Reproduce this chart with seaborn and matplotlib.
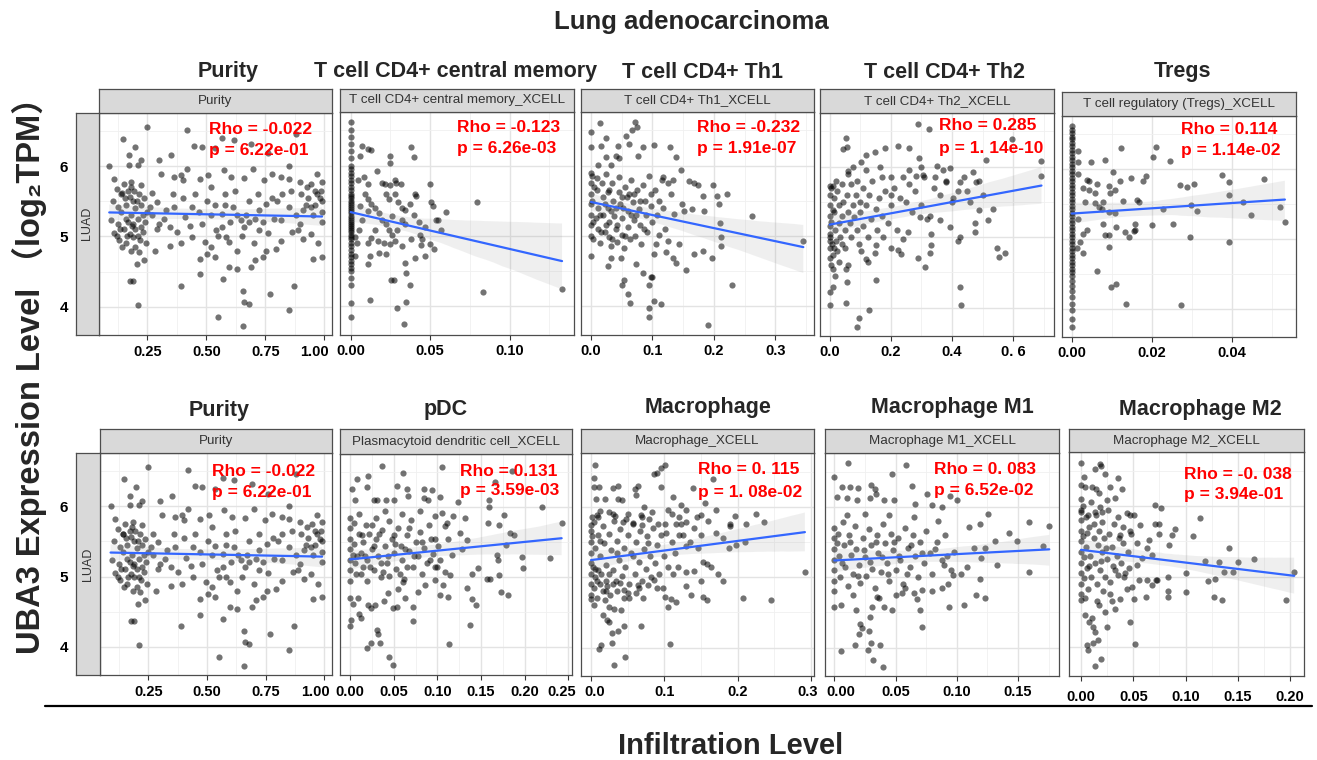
import matplotlib
matplotlib.use("Agg")
import matplotlib.pyplot as plt
import seaborn as sns
import pandas as pd
from matplotlib.lines import Line2D
from matplotlib.collections import PolyCollection
from matplotlib.transforms import ScaledTranslation

# ---------------- data ----------------
purity_pts = [
    (0.25,6.55),(0.148,6.39),(0.089,6.0),(0.198,6.27),(0.172,6.15),(0.222,6.08),(0.209,6.01),(0.172,6.02),
    (0.30,6.08),(0.35,6.15),(0.419,6.51),(0.449,6.29),(0.48,6.27),(0.535,6.25),(0.566,6.40),(0.616,6.37),
    (0.69,6.31),(0.759,6.18),(0.879,6.46),(0.851,6.0),(0.97,5.88),(0.989,5.77),(0.418,5.96),(0.394,5.87),
    (0.363,5.84),(0.308,5.88),(0.402,5.8),(0.472,5.82),(0.507,5.87),(0.574,5.94),(0.605,5.85),(0.66,5.83),
    (0.699,5.96),(0.746,5.8),(0.778,5.89),(0.817,5.84),(0.848,5.82),(0.895,5.77),(0.926,5.7),(0.958,5.65),
    (0.981,5.54),(0.109,5.82),(0.12,5.68),(0.151,5.75),(0.183,5.77),(0.222,5.73),(0.104,5.51),(0.128,5.42),
    (0.144,5.61),(0.175,5.56),(0.206,5.51),(0.237,5.54),(0.261,5.42),(0.269,5.61),(0.292,5.49),(0.097,5.23),
    (0.125,5.18),(0.159,5.25),(0.19,5.18),(0.222,5.13),(0.175,5.04),(0.19,4.99),(0.23,5.06),(0.245,4.9),
    (0.183,4.8),(0.214,4.78),(0.237,4.66),(0.206,4.61),(0.178,4.37),(0.19,4.37),(0.209,4.03),(0.284,4.8),
    (0.347,4.87),(0.394,4.9),(0.441,4.99),(0.48,5.18),(0.496,4.92),(0.519,4.85),(0.543,5.09),(0.566,5.13),
    (0.598,4.92),(0.629,4.8),(0.582,4.99),(0.504,4.75),(0.535,4.71),(0.472,4.68),(0.598,4.56),(0.629,4.54),
    (0.69,4.56),(0.707,4.66),(0.738,4.71),(0.754,4.8),(0.793,4.82),(0.817,4.94),(0.864,5.06),(0.887,5.09),
    (0.911,4.97),(0.942,5.04),(0.973,4.9),(0.989,4.71),(0.95,4.68),(0.895,5.18),(0.723,5.09),(0.66,5.13),
    (0.645,5.23),(0.723,5.37),(0.754,5.46),(0.801,5.51),(0.848,5.42),(0.504,5.51),(0.441,5.42),(0.41,5.27),
    (0.363,5.42),(0.331,5.37),(0.30,5.18),(0.347,5.13),(0.378,5.06),(0.535,5.44),(0.566,5.32),(0.613,5.42),
    (0.668,5.3),(0.707,5.25),(0.785,5.25),(0.817,5.23),(0.911,5.37),(0.942,5.42),(0.391,4.29),(0.472,4.46),
    (0.569,4.39),(0.55,3.85),(0.657,4.23),(0.66,4.07),(0.68,4.04),(0.77,4.18),(0.872,4.29),(0.848,3.96),
    (0.657,3.73),(0.14,5.35),(0.16,5.45),(0.18,5.3),(0.2,5.4),(0.215,5.6),(0.23,5.3),(0.155,5.55),(0.17,5.2),
    (0.195,5.65),(0.24,5.2),(0.135,5.1),(0.21,5.0),(0.16,4.9),(0.2,4.85),(0.18,5.7),(0.25,5.35),(0.45,5.6),
    (0.52,5.7),(0.58,5.6),(0.62,5.65),(0.68,5.5),(0.72,5.6),(0.65,5.0),(0.7,4.9),(0.76,5.05),(0.55,5.0),
    (0.6,5.2),(0.43,5.15),(0.88,5.3),(0.99,5.2),(0.99,5.5),
    (0.12,5.0),(0.13,4.95),(0.15,5.1),(0.165,5.0),(0.185,5.15),(0.2,5.1),(0.22,4.95),(0.14,5.6),(0.19,5.5),
    (0.225,5.45),(0.17,5.65),(0.21,5.25),(0.93,5.55),(0.96,5.45),(0.9,5.6),(0.86,5.65),(0.82,5.6),
    (0.78,5.55),(0.74,5.2),(0.68,5.2),(0.63,5.3),(0.58,5.45),(0.52,5.3),(0.47,5.35),(0.4,5.55),(0.36,5.6),
    (0.32,5.25),(0.29,5.1),(0.27,5.3),
    (0.97,5.6),(0.99,5.35),(0.95,5.3),(0.92,5.45),(0.985,5.65),(0.945,5.75),(0.11,5.05),(0.145,4.85),
]

cd4cm_pts = [
    (0,6.62),(0,6.5),(0,6.4),(0,6.3),(0,6.2),(0,6.1),(0,6.0),(0,5.95),(0,5.9),(0,5.85),(0,5.8),(0,5.75),
    (0,5.7),(0,5.65),(0,5.6),(0,5.57),(0,5.54),(0,5.5),(0,5.47),(0,5.44),(0,5.41),(0,5.38),(0,5.35),(0,5.32),
    (0,5.29),(0,5.26),(0,5.23),(0,5.2),(0,5.17),(0,5.14),(0,5.11),(0,5.08),(0,5.05),(0,5.02),(0,4.99),
    (0,4.95),(0,4.9),(0,4.85),(0,4.8),(0,4.75),(0,4.7),(0,4.65),(0,4.6),(0,4.55),(0,4.5),(0,4.4),(0,4.3),
    (0,4.05),(0,3.85),
    (0.0069,6.28),(0.011,6.23),(0.0058,6.13),(0.013,6.22),(0.0246,6.13),(0.025,6.04),(0.0377,6.26),
    (0.040,6.12),(0.0163,5.92),(0.0048,5.8),(0.0085,5.83),(0.0106,5.74),(0.0194,5.75),(0.0215,5.74),
    (0.0246,5.73),(0.0277,5.79),(0.0288,5.75),(0.0319,5.74),(0.0496,5.74),(0.0402,5.59),(0.041,5.57),
    (0.0506,5.48),(0.0517,5.42),(0.06,5.34),(0.0794,5.48),(0.0538,5.23),(0.0548,5.23),(0.0569,5.08),
    (0.0465,5.12),(0.0433,5.02),(0.0448,4.96),(0.0496,4.88),(0.0527,4.81),(0.0444,4.87),(0.0465,4.71),
    (0.0402,4.69),(0.034,4.62),(0.035,4.48),(0.0371,4.31),(0.0256,4.38),(0.0273,4.37),(0.0121,4.09),
    (0.0294,3.98),(0.035,4.06),(0.0335,3.75),(0.0829,4.21),(0.1329,4.24),
    (0.009,5.6),(0.011,5.53),(0.013,5.46),(0.015,5.39),(0.018,5.32),(0.02,5.22),(0.022,5.17),(0.024,5.08),
    (0.026,5.01),(0.028,4.93),(0.032,4.86),(0.015,5.08),(0.013,4.97),(0.011,4.9),(0.017,4.93),(0.021,4.9),
    (0.025,4.88),(0.029,5.08),(0.032,5.22),(0.034,5.17),(0.007,5.22),(0.005,5.08),(0.003,4.98),(0.006,5.42),
    (0.011,5.35),(0.022,5.6),(0.024,5.53),(0.028,5.6),(0.032,5.39),(0.034,5.37),(0.03,5.48),(0.026,5.29),
    (0.018,4.76),(0.011,4.6),(0.012,4.72),(0.022,4.75),(0.003,4.72),(0.004,4.9),(0.037,5.45),(0.04,5.3),
    (0.043,5.2),(0.038,4.95),
]

th1_pts = [
    (0.0146,6.6),(0.072,6.62),(0.075,6.55),(0.0667,6.51),(0.057,6.42),(0.0244,6.39),(0,6.47),(0.0163,6.28),
    (0,6.27),(0.0434,6.28),(0.0623,6.31),(0.084,6.27),(0.103,6.29),(0.129,6.27),(0.0759,6.14),(0.041,6.14),
    (0.046,6.11),(0.024,6.12),(0.011,6.01),(0.0325,6.01),(0.138,6.12),(0.1463,5.93),(0.117,5.83),(0.125,5.75),
    (0.133,5.79),(0.16,5.78),(0.168,5.75),(0.1735,5.72),(0.198,5.73),(0.1816,5.57),(0.206,5.57),(0.222,5.6),
    (0.148,5.46),(0.165,5.38),(0.184,5.35),(0.2087,5.45),(0.2618,5.29),(0.1355,5.31),(0.152,5.35),(0.21,5.18),
    (0.211,4.98),(0.2125,4.85),(0.1816,4.78),(0.197,4.68),(0.168,4.75),(0.1545,4.52),(0.138,4.61),(0.133,4.69),
    (0.144,4.88),(0.125,4.93),(0.111,5.02),(0.106,4.88),(0.103,4.74),(0.122,4.77),(0.1,4.41),(0.098,4.41),
    (0.094,4.31),(0.103,4.07),(0.114,4.04),(0.095,3.97),(0.095,3.85),(0.0607,4.18),(0.063,4.05),(0.0504,4.3),
    (0.054,4.38),(0.084,4.47),(0.073,4.6),(0.028,4.57),(0.0325,4.68),(0.0488,4.68),(0,4.72),(0.2293,4.3),
    (0.19,3.74),(0.3458,4.93),
    (0.0,5.9),(0.0,5.75),(0.0,5.6),(0.0,5.45),(0.0,5.3),(0.0,5.15),(0.0,5.0),(0.002,5.85),(0.002,5.5),
    (0.003,5.2),(0.003,4.95),(0.01,5.82),(0.01,5.65),(0.012,5.4),(0.012,5.1),(0.015,4.9),(0.018,5.75),
    (0.02,5.55),(0.02,5.3),(0.022,5.05),(0.025,5.88),(0.027,5.62),(0.028,5.4),(0.03,5.2),(0.03,4.98),
    (0.032,4.85),(0.035,5.75),(0.036,5.5),(0.038,5.28),(0.04,5.1),(0.042,4.92),(0.045,5.83),(0.045,5.62),
    (0.047,5.45),(0.05,5.25),(0.05,5.02),(0.053,4.83),(0.055,5.7),(0.058,5.55),(0.06,5.35),(0.06,5.12),
    (0.063,4.95),(0.065,5.8),(0.068,5.48),(0.07,5.22),(0.072,5.0),(0.075,5.65),(0.078,5.38),(0.08,5.15),
    (0.082,4.88),(0.085,5.72),(0.088,5.5),(0.09,5.3),(0.092,5.05),(0.095,5.85),(0.098,5.42),(0.1,5.2),
    (0.03,5.65),(0.04,5.4),(0.05,5.55),(0.025,5.15),(0.015,5.3),(0.065,5.3),(0.07,5.6),(0.11,5.5),
    (0.115,5.8),(0.12,5.1),(0.105,5.65),(0.13,5.6),
    (0.005,5.7),(0.008,5.25),(0.017,5.05),(0.023,5.45),(0.033,5.35),(0.043,5.15),(0.052,5.4),(0.062,5.6),
    (0.074,5.3),(0.086,5.1),(0.097,5.6),(0.108,5.3),(0.118,5.4),(0.035,4.95),(0.055,5.0),(0.08,5.5),
]

th2_pts = [
    (0.289,6.61),(0.324,6.54),(0.052,6.41),(0.0436,6.25),(0.058,6.28),(0.118,6.16),(0.149,6.2),(0.18,6.26),
    (0.224,6.29),(0.26,6.27),(0.598,6.39),(0.693,6.08),(0.51,6.09),(0.292,6.12),(0.351,6.01),(0.393,5.98),
    (0.06,5.94),(0.076,6.0),(0.101,6.06),(0.1636,5.99),(0.2,5.85),(0.24,5.85),(0.284,5.87),(0.305,5.88),
    (0.343,5.85),(0.38,5.78),(0.425,5.78),(0.469,5.92),(0.478,5.78),(0.489,5.79),(0.69,5.86),(0,5.73),
    (0.011,5.73),(0.45,5.65),(0.4035,5.55),(0.4876,5.39),(0.535,5.4),(0.519,5.24),(0.4745,5.2),(0.4745,5.07),
    (0.425,5.0),(0.42,4.95),(0.393,5.14),(0.36,5.24),(0.327,5.3),(0.294,5.28),(0.333,5.04),(0.333,4.89),
    (0.327,4.78),(0.289,4.7),(0.311,4.57),(0.256,5.07),(0.24,4.97),(0.234,4.76),(0.224,4.81),(0.2,4.84),
    (0.153,4.88),(0.147,4.78),(0.12,4.69),(0.125,4.64),(0.153,4.39),(0.101,4.8),(0.06,4.6),(0.0545,4.55),
    (0.058,4.36),(0.011,4.55),(0.0164,4.45),(0.0109,4.29),(0,4.22),(0,4.04),(0.052,4.06),(0.095,3.85),
    (0.0905,3.73),(0.129,3.96),(0.425,4.29),(0.4285,4.03),(0.549,4.84),(0.554,4.72),(0.575,4.78),
    (0.0,5.6),(0.0,5.45),(0.0,5.3),(0.0,5.15),(0.0,5.0),(0.0,4.85),(0.005,5.7),(0.005,5.22),(0.008,4.9),
    (0.015,5.55),(0.015,5.35),(0.018,5.1),(0.02,4.95),(0.025,5.65),(0.03,5.45),(0.03,5.2),(0.035,5.0),
    (0.04,5.75),(0.04,5.3),(0.045,5.5),(0.05,5.1),(0.05,4.85),(0.055,5.6),(0.06,5.35),(0.065,5.2),
    (0.07,5.75),(0.07,5.0),(0.075,5.45),(0.08,5.28),(0.085,5.6),(0.09,5.1),(0.095,4.9),(0.1,5.5),
    (0.1,5.35),(0.11,5.7),(0.11,5.15),(0.12,5.45),(0.125,5.0),(0.13,5.6),(0.135,5.25),(0.14,5.8),
    (0.15,5.4),(0.155,5.1),(0.16,5.55),(0.17,5.3),(0.175,5.0),(0.18,5.65),(0.19,5.2),(0.2,5.45),(0.21,5.7),
    (0.22,5.1),(0.23,5.55),(0.25,5.5),(0.26,5.75),(0.27,5.35),(0.28,5.65),(0.3,5.45),(0.31,5.85),
    (0.32,5.25),(0.34,5.7),(0.36,5.6),(0.38,5.8),(0.4,5.5),(0.02,5.8),(0.06,5.9),(0.09,5.8),(0.12,5.95),
    (0.17,5.85),(0.2,5.6),(0.01,5.38),
    (0.0,4.7),(0.005,4.6),(0.01,4.75),(0.015,4.85),(0.025,4.8),(0.03,4.65),(0.04,4.9),(0.0,4.95),
    (0.0,5.05),(0.42,5.65),(0.44,5.85),(0.46,5.5),(0.5,5.6),(0.37,5.95),(0.3,6.0),(0.26,5.95),
]

tregs_pts = [
    (0,6.61),(0,6.56),(0,6.51),(0,6.46),(0,6.42),(0,6.37),(0,6.32),(0,6.27),(0,6.22),(0,6.17),(0,6.12),
    (0,6.07),(0,6.02),(0,5.97),(0,5.92),(0,5.87),(0,5.82),(0,5.77),(0,5.72),(0,5.67),(0,5.62),(0,5.57),
    (0,5.52),(0,5.47),(0,5.42),(0,5.37),(0,5.32),(0,5.27),(0,5.22),(0,5.17),(0,5.12),(0,5.07),(0,5.02),
    (0,4.97),(0,4.92),(0,4.87),(0,4.82),(0,4.77),(0,4.72),(0,4.67),(0,4.62),(0,4.57),(0,4.52),(0,4.47),
    (0,4.4),(0,4.33),(0,4.26),(0,4.17),(0,4.07),(0,3.98),(0,3.86),(0,3.74),
    (0.0015,6.25),(0.01225,6.3),(0.0211,6.31),(0.0204,6.17),(0.0246,6.11),(0.00475,6.1),(0.0083,6.12),
    (0.0015,6.1),(0.0015,5.93),(0.0104,5.96),(0.00375,5.84),(0.0044,5.83),(0.00625,5.79),(0.0029,5.73),
    (0.0042,5.7),(0.0058,5.65),(0.0092,5.75),(0.0096,5.65),(0.0107,5.7),(0.012,5.82),(0.0148,5.87),
    (0.0179,5.83),(0.0185,5.9),(0.0271,5.77),(0.0288,5.74),(0.0306,5.79),(0.0375,5.91),(0.0393,5.81),
    (0.0481,5.85),(0.0392,5.62),(0.0428,5.52),(0.0129,5.54),(0.0163,5.56),(0.0167,5.52),(0.0032,5.53),
    (0.0058,5.51),(0.0067,5.46),(0.0079,5.52),(0.0075,5.42),(0.0107,5.37),(0.0092,5.38),(0.0228,5.42),
    (0.0298,5.48),(0.0313,5.4),(0.0448,5.34),(0.0521,5.46),(0.0533,5.24),(0.0253,5.21),(0.02,5.2),
    (0.0157,5.21),(0.0156,5.11),(0.0158,5.13),(0.0132,5.09),(0.0144,5.03),(0.011,5.17),(0.0078,5.21),
    (0.0093,5.06),(0.0082,5.06),(0.0039,5.13),(0.0027,5.07),(0.0015,5.28),(0.00125,4.87),(0.0021,4.96),
    (0.0028,4.8),(0.0094,4.88),(0.0296,5.03),(0.0393,4.95),(0.0064,4.54),(0.0098,4.31),(0.011,4.36),
    (0.0136,4.07),(0.0273,4.05),
]

pdc_pts = [
    (0.0363,6.59),(0.1057,6.58),(0.0603,6.49),(0.021,6.45),(0.0076,6.41),(0.019,6.29),(0.0542,6.3),
    (0.0649,6.27),(0.0851,6.27),(0.0935,6.25),(0.0027,6.26),(0.0057,6.1),(0.0279,6.1),(0.0305,6.1),
    (0.0412,6.1),(0.0504,6.1),(0.066,6.17),(0.0851,6.13),(0.0897,6.1),(0.103,6.15),(0.1595,6.11),(0.1595,6.0),
    (0.124,6.08),(0.185,6.52),(0.166,6.36),(0.22,6.01),(0.2424,5.77),(0.171,5.75),(0.1832,5.63),(0.1878,5.6),
    (0.1767,5.89),(0.1584,5.77),(0.179,5.46),(0.168,5.32),(0.169,5.25),(0.1966,5.29),(0.229,5.27),
    (0.1985,5.13),(0.1706,5.03),(0.1725,4.79),(0.1806,4.74),(0.1603,4.98),(0.1565,4.98),(0.147,5.13),
    (0.1393,5.04),(0.1336,4.85),(0.1393,4.69),(0.1443,4.6),(0.1374,4.31),(0.1134,4.05),(0.1279,5.41),
    (0.1336,5.54),(0.1126,5.55),(0.1088,5.74),(0.1183,5.88),(0.1317,5.85),(0.0973,5.88),(0.105,5.92),
    (0.1107,5.78),(0.126,5.63),(0.0973,5.55),(0.1011,5.45),(0.1164,5.32),(0.103,5.25),(0.0973,5.14),
    (0.1088,5.08),(0.1145,5.03),(0.1069,4.89),(0.103,4.75),(0.1126,4.72),(0.0973,4.96),(0.0859,4.89),
    (0.0782,4.79),(0.0725,4.58),(0.0718,4.38),(0.063,4.7),(0.0534,4.57),(0.0489,4.56),(0.0546,4.83),
    (0.0611,4.93),(0.0439,4.77),(0.0393,4.66),(0.0286,4.6),(0.021,4.6),(0.0241,4.56),(0.0095,4.7),(0,4.7),
    (0.0038,4.61),(0.0103,4.47),(0.0126,4.42),(0.0011,4.39),(0,4.3),(0.0313,4.24),(0.0317,4.19),
    (0.0237,4.06),(0.019,3.99),(0.0344,4.06),(0.0447,3.86),(0.0489,3.75),
    (0.0,5.85),(0.0,5.7),(0.0,5.55),(0.0,5.4),(0.0,5.25),(0.0,5.1),(0.0,4.95),(0.005,5.78),(0.005,5.48),
    (0.006,5.2),(0.01,5.9),(0.01,5.62),(0.012,5.35),(0.012,5.05),(0.015,5.5),(0.018,5.75),(0.02,5.25),
    (0.02,4.95),(0.022,5.62),(0.025,5.4),(0.027,5.1),(0.03,5.85),(0.03,5.55),(0.032,5.3),(0.035,5.0),
    (0.037,5.68),(0.04,5.45),(0.042,5.2),(0.045,5.8),(0.045,5.02),(0.048,5.55),(0.05,5.35),(0.053,5.12),
    (0.055,5.7),(0.058,5.45),(0.06,5.25),(0.062,4.98),(0.065,5.6),(0.068,5.38),(0.07,5.82),(0.072,5.15),
    (0.075,5.5),(0.078,5.3),(0.08,5.65),(0.083,5.05),(0.085,5.42),(0.088,5.2),(0.09,5.75),(0.093,5.55),
    (0.095,5.33),(0.1,5.15),(0.015,5.15),(0.025,5.75),(0.035,5.2),(0.05,5.6),(0.065,5.15),(0.008,5.3),
    (0.04,5.95),(0.06,5.9),(0.08,5.95),
    (0.003,5.32),(0.007,5.05),(0.014,5.6),(0.017,5.3),(0.023,5.15),(0.028,5.45),(0.033,5.62),(0.038,5.08),
    (0.043,5.3),(0.052,5.48),(0.057,5.05),(0.063,5.4),(0.067,5.7),(0.073,5.3),(0.082,5.5),(0.092,5.25),
]

macro_pts = [
    (0.0055,6.6),(0.0036,6.41),(0.1003,6.59),(0.0958,6.55),(0.0857,6.46),(0.0899,6.48),(0.1664,6.39),
    (0.0046,6.28),(0.0114,6.28),(0.0296,6.27),(0.0365,6.29),(0.0602,6.25),(0.0647,6.3),(0.0958,6.28),
    (0.1391,6.26),(0.1117,6.14),(0.1231,6.02),(0.0068,6.11),(0.0196,6.11),(0.0365,6.11),(0.0419,6.1),
    (0.0616,6.17),(0.073,6.0),(0.0834,5.92),(0.0014,5.86),(0.0078,5.89),(0.0128,5.94),(0.0242,5.92),
    (0.0333,5.87),(0.0433,5.78),(0.0479,5.82),(0.057,5.77),(0.0684,5.89),(0.0698,5.74),(0.0798,5.82),
    (0.0912,5.75),(0.1003,5.76),(0.1026,5.63),(0.1163,5.75),(0.1231,5.75),(0.13,5.78),(0.1496,5.88),
    (0.171,5.63),(0.1892,5.72),(0.1961,5.87),(0.2111,5.76),(0.2248,5.9),(0.2362,5.78),(0,5.74),(0.0009,5.59),
    (0.1879,5.41),(0.1984,5.45),(0.13,5.44),(0.146,5.42),(0.1528,5.22),(0.1582,5.19),(0.1642,5.15),
    (0.1733,5.05),(0.1801,4.95),(0.1505,4.95),(0.1404,5.09),(0.129,5.08),(0.1186,5.15),(0.1117,5.05),
    (0.13,4.88),(0.1368,4.75),(0.1528,4.72),(0.1587,4.67),(0.2075,4.71),(0.2462,4.68),(0.2918,5.08),
    (0.1163,4.65),(0.1003,4.72),(0.1049,4.58),(0.1094,4.69),(0.098,4.84),(0.0866,4.96),(0.0775,4.89),
    (0.0707,4.7),(0.0616,4.77),(0.0502,4.77),(0.0638,4.89),(0.0524,4.7),(0.041,4.53),(0.0319,4.55),
    (0.0242,4.58),(0.0196,4.67),(0.0046,4.6),(0,4.69),(0.016,4.46),(0.0219,4.39),(0.0251,4.37),
    (0.0447,4.3),(0.0365,4.24),(0.0287,4.2),(0.0684,4.3),(0.0287,4.06),(0.0137,4.04),(0.0105,3.98),
    (0.047,3.86),(0.031,3.75),(0.1081,4.05),
    (0.0,5.65),(0.0,5.5),(0.0,5.35),(0.0,5.2),(0.0,5.05),(0.0,4.9),(0.004,5.78),(0.005,5.42),(0.006,5.12),
    (0.008,4.95),(0.01,5.6),(0.012,5.3),(0.014,5.05),(0.016,5.72),(0.018,5.48),(0.02,5.18),(0.022,4.88),
    (0.025,5.62),(0.027,5.38),(0.03,5.1),(0.032,5.8),(0.034,4.95),(0.036,5.52),(0.038,5.25),(0.04,5.68),
    (0.042,5.02),(0.045,5.42),(0.047,5.15),(0.05,5.6),(0.052,4.9),(0.055,5.35),(0.057,5.75),(0.06,5.05),
    (0.062,5.5),(0.065,5.22),(0.067,5.65),(0.07,4.95),(0.072,5.4),(0.075,5.12),(0.077,5.58),(0.08,5.3),
    (0.082,5.0),(0.085,5.7),(0.088,5.2),(0.09,5.45),(0.093,5.05),(0.095,5.6),(0.1,5.3),(0.105,5.15),
    (0.11,5.5),(0.115,5.35),(0.12,5.6),(0.01,5.85),(0.03,5.9),(0.05,5.9),(0.07,5.85),(0.02,4.8),
    (0.045,4.82),(0.065,4.85),(0.09,4.85),(0.012,5.52),(0.035,5.35),(0.058,5.3),(0.078,5.48),
    (0.0,4.75),(0.004,4.85),(0.008,4.7),(0.012,4.9),(0.016,4.8),(0.02,4.95),(0.006,5.0),(0.026,4.75),
    (0.03,4.9),(0.035,4.8),(0.04,4.92),(0.01,5.1),(0.024,5.05),(0.003,5.15),(0.045,4.7),
    (0.12,5.85),(0.14,5.7),(0.15,5.6),(0.16,5.8),(0.18,5.55),(0.13,5.95),(0.11,5.9),(0.17,5.95),
    (0.19,5.75),(0.21,5.5),(0.105,5.95),(0.125,5.6),(0.145,5.85),(0.155,6.05),(0.135,5.5),
]

m1_pts = [
    (0.0112,6.62),(0.0588,6.6),(0,6.42),(0.0471,6.47),(0.0063,6.28),(0.0131,6.28),(0.0191,6.27),
    (0.0302,6.31),(0.0335,6.25),(0.0634,6.29),(0.0022,6.14),(0.0103,6.12),(0.0185,6.1),(0.0289,6.13),
    (0.0403,6.1),(0.0485,6.1),(0.0343,6.18),(0.0662,6.04),(0.0798,6.03),(0.0879,6.0),(0.1002,6.1),
    (0.0947,6.16),(0.0757,6.18),(0.1252,5.9),(0.1192,5.75),(0.1097,5.71),(0.1424,5.63),(0.1593,5.78),
    (0.1756,5.73),(0.1704,5.44),(0.1492,5.52),(0.1315,5.51),(0.1233,5.42),(0.1138,5.41),(0.1329,5.18),
    (0.12,5.27),(0.1587,5.08),(0.1187,4.97),(0.1084,5.15),(0.1037,5.05),(0.0969,5.03),(0.0975,5.36),
    (0.0893,5.17),(0.0926,4.91),(0.0879,4.84),(0.1056,4.6),(0.116,4.75),(0.1233,4.7),(0.0798,4.8),
    (0.0934,4.57),(0.0716,4.82),(0.0702,4.53),(0.0716,4.29),(0.0675,4.69),(0.0648,4.77),(0.058,4.84),
    (0.0506,4.75),(0.0471,4.53),(0.0403,4.58),(0.0362,4.7),(0.0308,4.57),(0.0294,4.44),(0.018,4.53),
    (0.0207,4.34),(0.0199,4.19),(0.0226,4.28),(0.028,4.23),(0.0302,4.06),(0.0272,3.97),(0.0376,4.03),
    (0.0166,4.03),(0.0054,3.95),(0.0316,3.83),(0.0395,3.72),(0,4.58),(0.0057,4.6),
    (0.0,5.7),(0.0,5.55),(0.0,5.4),(0.0,5.25),(0.0,5.1),(0.0,4.95),(0.0,4.8),(0.003,5.62),(0.004,5.3),
    (0.005,5.0),(0.007,5.78),(0.008,5.45),(0.009,5.15),(0.011,4.88),(0.012,5.6),(0.014,5.32),(0.015,5.05),
    (0.017,5.72),(0.018,5.4),(0.02,5.18),(0.021,4.92),(0.023,5.55),(0.025,5.28),(0.026,5.02),(0.028,5.68),
    (0.03,5.45),(0.031,5.12),(0.033,4.85),(0.035,5.6),(0.036,5.35),(0.038,5.08),(0.04,5.75),(0.041,5.48),
    (0.043,5.2),(0.045,4.95),(0.046,5.62),(0.048,5.38),(0.05,5.1),(0.052,5.55),(0.054,5.25),(0.056,4.9),
    (0.058,5.7),(0.06,5.42),(0.062,5.15),(0.064,5.6),(0.066,5.3),(0.068,5.0),(0.07,5.5),(0.073,5.2),
    (0.075,5.65),(0.078,5.35),(0.08,5.05),(0.084,5.5),(0.088,5.25),(0.09,5.6),(0.095,5.1),(0.01,5.88),
    (0.025,5.9),(0.045,5.88),(0.065,5.85),(0.085,5.8),(0.015,4.75),(0.035,4.72),(0.055,4.78),
    (0.002,5.48),(0.006,5.2),(0.013,5.5),(0.019,5.02),(0.024,5.38),(0.029,5.22),(0.034,5.5),(0.039,5.28),
    (0.044,5.05),(0.049,5.5),(0.053,5.3),(0.059,5.05),(0.063,5.45),(0.072,5.35),(0.082,5.4),(0.092,5.3),
]

m2_pts = [
    (0,6.61),(0.0131,6.53),(0.0178,6.59),(0.0194,6.56),(0.0232,6.46),(0.0354,6.39),(0.0025,6.41),(0,6.3),
    (0.0041,6.27),(0.0105,6.27),(0.0146,6.24),(0.0169,6.18),(0.028,6.27),(0.0392,6.24),(0.0248,6.08),
    (0.0328,6.12),(0.0704,6.01),(0.0764,5.97),(0.114,5.83),(0,5.92),(0.0067,5.87),(0.0137,5.92),
    (0.0201,5.91),(0.044,5.9),(0.047,5.88),(0.0503,5.87),(0.0567,5.73),(0.0711,5.75),(0.0742,5.75),
    (0.0742,5.6),(0.0901,5.68),(0.0869,5.59),(0.107,5.58),(0.0646,5.52),(0.0838,5.45),(0.1411,5.41),
    (0.1188,5.22),(0.1315,5.21),(0.1363,5.07),(0.1452,5.06),(0.1283,4.97),(0.1213,4.94),(0.1003,5.05),
    (0.0831,5.0),(0.0726,4.96),(0.0631,4.96),(0.0678,4.88),(0.0621,4.72),(0.0719,4.95),(0.0834,4.8),
    (0.0834,4.71),(0.1003,4.79),(0.1268,4.71),(0.1347,4.67),(0.1959,4.67),(0.2038,5.07),(0.0557,4.95),
    (0.0503,4.69),(0.0487,4.86),(0.044,4.83),(0.0328,4.54),(0.0248,4.29),(0.0471,4.36),(0.0513,4.05),
    (0.0194,3.84),(0.0137,3.74),(0,4.67),(0.0035,4.46),(0.0073,4.36),(0.0111,4.29),(0.0131,4.22),
    (0.0057,4.03),(0.0118,4.06),(0.0067,3.96),(0.0162,4.1),(0.0105,4.41),(0.0169,4.6),(0.0232,4.5),
    (0.0296,4.65),(0.0376,4.69),(0.0408,5.0),(0.0328,5.09),(0.0455,5.12),(0.0535,5.17),(0.0583,5.26),
    (0.0678,5.31),(0.0631,5.4),(0.0535,5.47),(0.047,5.64),(0.0376,5.59),
    (0.0,6.1),(0.0,5.95),(0.0,5.8),(0.0,5.65),(0.0,5.5),(0.0,5.35),(0.0,5.2),(0.0,5.05),(0.0,4.9),(0.0,4.75),
    (0.002,6.0),(0.002,5.58),(0.003,5.28),(0.003,4.98),(0.005,5.85),(0.005,5.42),(0.006,5.12),(0.007,4.82),
    (0.008,5.7),(0.009,5.3),(0.01,6.05),(0.01,5.0),(0.012,5.55),(0.013,5.2),(0.014,5.88),(0.015,4.9),
    (0.016,5.45),(0.017,5.65),(0.018,5.1),(0.02,5.78),(0.02,5.35),(0.021,4.8),(0.022,5.55),(0.023,5.0),
    (0.025,5.25),(0.026,5.95),(0.027,5.6),(0.028,4.92),(0.03,5.42),(0.031,5.15),(0.032,5.75),(0.034,5.3),
    (0.035,5.02),(0.036,5.55),(0.038,5.2),(0.04,5.48),(0.04,5.7),(0.042,5.05),(0.045,5.35),(0.048,5.6),
    (0.012,5.75),(0.008,5.15),(0.018,5.98),(0.024,5.4),(0.004,4.7),(0.015,4.65),(0.028,4.75),(0.035,5.85),
    (0.006,5.62),(0.019,5.22),(0.15,5.21),(0.165,5.25),
]

# text of the chart
main_title = "Lung adenocarcinoma"
x_label = "Infiltration Level"
y_label = "UBA3 Expression Level （log₂TPM）"
row_label = "LUAD"
titles = ["Purity", "T cell CD4+ central memory", "T cell CD4+ Th1", "T cell CD4+ Th2", "Tregs",
          "Purity", "pDC", "Macrophage", "Macrophage M1", "Macrophage M2"]
strips = ["Purity", "T cell CD4+ central memory_XCELL", "T cell CD4+ Th1_XCELL", "T cell CD4+ Th2_XCELL",
          "T cell regulatory (Tregs)_XCELL", "Purity", "Plasmacytoid dendritic cell_XCELL",
          "Macrophage_XCELL", "Macrophage M1_XCELL", "Macrophage M2_XCELL"]
rho_txt = ["Rho = -0.022", "Rho = -0.123", "Rho = -0.232", "Rho = 0.285", "Rho = 0.114",
           "Rho = -0.022", "Rho = 0.131", "Rho = 0. 115", "Rho = 0. 083", "Rho = -0. 038"]
p_txt = ["p = 6.22e-01", "p = 6.26e-03", "p = 1.91e-07", "p = 1. 14e-10", "p = 1.14e-02",
         "p = 6.22e-01", "p = 3.59e-03", "p = 1. 08e-02", "p = 6.52e-02", "p = 3.94e-01"]
xticks = [[0.25, 0.50, 0.75, 1.00], [0.00, 0.05, 0.10], [0.0, 0.1, 0.2, 0.3], [0.0, 0.2, 0.4, 0.6],
          [0.00, 0.02, 0.04], [0.25, 0.50, 0.75, 1.00], [0.00, 0.05, 0.10, 0.15, 0.20, 0.25],
          [0.0, 0.1, 0.2, 0.3], [0.00, 0.05, 0.10, 0.15], [0.00, 0.05, 0.10, 0.15, 0.20]]
xticklabels = [["0.25", "0.50", "0.75", "1.00"], ["0.00", "0.05", "0.10"], ["0.0", "0.1", "0.2", "0.3"],
               ["0.0", "0.2", "0.4", "0. 6"], ["0.00", "0.02", "0.04"], ["0.25", "0.50", "0.75", "1.00"],
               ["0.00", "0.05", "0.10", "0.15", "0.20", "0.25"], ["0.0", "0.1", "0.2", "0.3"],
               ["0.00", "0.05", "0.10", "0.15"], ["0.00", "0.05", "0.10", "0.15", "0.20"]]
yticks = [4, 5, 6]
panel_data = [purity_pts, cd4cm_pts, th1_pts, th2_pts, tregs_pts,
              purity_pts, pdc_pts, macro_pts, m1_pts, m2_pts]

# ---------------- layout (pixels) ----------------
W, H = 1317, 760
# plot x0, x1, y0 (top), y1 (bottom), strip top, xlim
layout = [
    (98.5, 332, 112.5, 335, 89, (0.0436, 1.032)),
    (340, 574.3, 112, 334.5, 89, (-0.0067, 0.1406)),
    (581, 813.7, 112, 334.5, 89, (-0.0163, 0.3627)),
    (820.3, 1053.7, 113, 335.7, 89, (-0.0308, 0.733)),
    (1061.7, 1295.7, 115.7, 336.7, 91.7, (-0.0025, 0.056)),
    (99.9, 332, 452.7, 675, 429.3, (0.0436, 1.032)),
    (340, 572.3, 454.3, 675, 429, (-0.0115, 0.2546)),
    (581, 813.7, 453.3, 675.7, 429, (-0.0136, 0.3038)),
    (825.3, 1059.3, 453.3, 675.7, 429, (-0.0074, 0.1838)),
    (1069.3, 1303.7, 452.3, 675.7, 429, (-0.0112, 0.2129)),
]
# horizontal shifts (px) of single tick labels, as placed in the reference
label_shift = {(0, 3): -10, (5, 3): -9, (6, 5): -7, (7, 0): 4, (7, 3): -3, (8, 0): 6}
title_pos = [(228, 71), (456, 72), (703, 73), (945, 72), (1183, 72),
             (219, 411), (446, 410), (708, 408), (952, 408), (1200, 410)]
rho_pos = [(209, 129, 150), (457, 128, 148), (697, 127, 148), (939, 126, 148), (1181, 130, 151),
           (212, 471, 493), (460, 471, 491), (698, 470, 492), (934, 470, 490), (1184, 474, 495)]
YLIM = (3.6, 6.76)

sns.set_theme(style="white")
plt.rcParams["font.family"] = ["Liberation Sans", "DejaVu Sans", "Noto Sans CJK SC"]

fig = plt.figure(figsize=(W / 100, H / 100), dpi=100)


def px_axes(x0, y0, x1, y1):
    return fig.add_axes([x0 / W, 1 - y1 / H, (x1 - x0) / W, (y1 - y0) / H])


def fy(y):
    return 1 - y / H


EDGE = "#4D4D4D"
for i in range(10):
    x0, x1, y0, y1, sy0, xlim = layout[i]
    ax = px_axes(x0, y0, x1, y1)
    df = pd.DataFrame(panel_data[i], columns=["x", "y"])
    sns.regplot(data=df, x="x", y="y", ax=ax, ci=95, truncate=True,
                scatter_kws=dict(s=20, color="black", alpha=0.55, linewidths=0, zorder=2),
                line_kws=dict(color="#3366FF", lw=1.6, zorder=4))
    for coll in ax.collections:
        if isinstance(coll, PolyCollection):
            coll.set_facecolor((0.6, 0.6, 0.6, 0.42))
            coll.set_edgecolor("none")
            coll.set_zorder(3)
    ax.set_facecolor("white")
    ax.set_xlim(*xlim)
    ax.set_ylim(*YLIM)
    maj = xticks[i]
    step = maj[1] - maj[0]
    minors = [maj[0] - step / 2] + [v + step / 2 for v in maj]
    minors = [m for m in minors if xlim[0] < m < xlim[1]]
    ax.set_xticks(maj)
    ax.set_xticklabels(xticklabels[i], fontsize=10.5, fontweight="bold", color="black")
    ax.set_xticks(minors, minor=True)
    ax.set_yticks(yticks)
    ax.set_yticks([4.5, 5.5, 6.5], minor=True)
    ax.grid(which="major", color="#E3E3E3", lw=1.0)
    ax.grid(which="minor", color="#F0F0F0", lw=0.6)
    ax.set_axisbelow(True)
    ax.tick_params(axis="x", which="major", bottom=True, length=3.5, width=0.8, color="#333333",
                   pad=3.5 if i != 9 else 6.5)
    ax.tick_params(axis="x", which="minor", bottom=False, length=0)
    ax.tick_params(axis="y", which="both", left=False, labelleft=False)
    ax.set_xlabel("")
    ax.set_ylabel("")
    for k, lbl in enumerate(ax.get_xticklabels()):
        if (i, k) in label_shift:
            lbl.set_transform(lbl.get_transform() +
                              ScaledTranslation(label_shift[(i, k)] / 100, 0, fig.dpi_scale_trans))
    for sp in ax.spines.values():
        sp.set_color(EDGE)
        sp.set_linewidth(0.9)

    # facet strip on top
    sax = px_axes(x0, sy0, x1, y0)
    sax.set_facecolor("#D9D9D9")
    sax.set_xticks([])
    sax.set_yticks([])
    for sp in sax.spines.values():
        sp.set_color(EDGE)
        sp.set_linewidth(0.9)
    sax.text(0.5, 0.5, strips[i], ha="center", va="center", fontsize=9.6, color="#333333",
             transform=sax.transAxes)

    # row strip (left) for the purity panels
    if i in (0, 5):
        lax = px_axes(75.5, y0, x0, y1)
        lax.set_facecolor("#D9D9D9")
        lax.set_ylim(*YLIM)
        lax.set_xticks([])
        lax.set_yticks(yticks)
        lax.set_yticklabels([str(v) for v in yticks], fontsize=11, fontweight="bold", color="black")
        lax.tick_params(axis="y", length=3.5, width=0.8, color="#333333", pad=2)
        for sp in lax.spines.values():
            sp.set_color(EDGE)
            sp.set_linewidth(0.9)
        lax.text(0.5, 0.5, row_label, rotation=90, ha="center", va="center", fontsize=9,
                 color="#333333", transform=lax.transAxes)

    tx, ty = title_pos[i]
    fig.text(tx / W, fy(ty), titles[i], ha="center", va="center", fontsize=15.5, fontweight="bold")
    rx, ry1, ry2 = rho_pos[i]
    fig.text(rx / W, fy(ry1), rho_txt[i], ha="left", va="center", fontsize=12.5, fontweight="bold",
             color="#FF0000")
    fig.text(rx / W, fy(ry2), p_txt[i], ha="left", va="center", fontsize=12.5, fontweight="bold",
             color="#FF0000")

fig.text(691 / W, fy(22), main_title, ha="center", va="center", fontsize=18.5, fontweight="bold")
fig.text(731 / W, fy(746), x_label, ha="center", va="center", fontsize=21, fontweight="bold")
fig.text(29 / W, fy(368), y_label, ha="center", va="center", rotation=90, fontsize=23.5,
         fontweight="bold")
fig.add_artist(Line2D([45 / W, 1312 / W], [fy(706), fy(706)], color="black", lw=1.6))

fig.savefig("out.png", dpi=100)
